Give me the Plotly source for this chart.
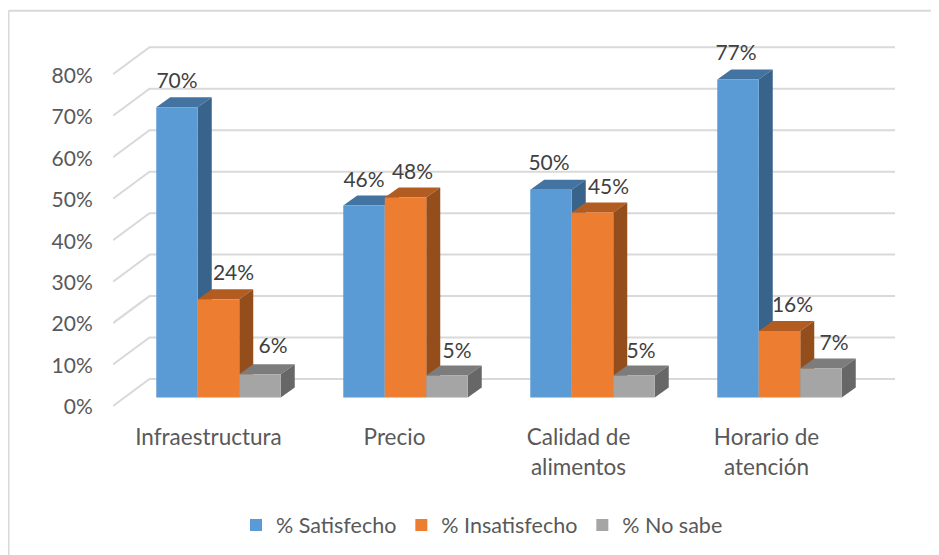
import plotly.graph_objects as go

categories = ["Infraestructura", "Precio", "Calidad de<br>alimentos", "Horario de<br>atención"]
series_names = ["% Satisfecho", "% Insatisfecho", "% No sabe"]
satisfecho = [70.0, 46.3, 50.1, 76.7]
insatisfecho = [23.7, 48.2, 44.6, 16.0]
no_sabe = [5.6, 5.3, 5.3, 7.0]
y_ticks = [0, 10, 20, 30, 40, 50, 60, 70, 80]

front_colors = ["#5B9BD5", "#ED7D31", "#A5A5A5"]
top_colors = ["#4373A0", "#B35C22", "#7C7C7C"]
side_colors = ["#38638A", "#934E1B", "#676767"]
series = [satisfecho, insatisfecho, no_sabe]

FONT = "Lato"
FS = 21
CAT_FS = 22.5
PAGE = 8  # page margin of the html body
W, H = 939 - PAGE, 555 - PAGE
L, R, T, B = 113 - PAGE, 895 - PAGE, 25 - PAGE, 411 - PAGE
STEP_PX = 187.0
PX_Y = 4.146
BAR_PX = 41.5
x_per_px = 1 / STEP_PX
y_per_px = 1 / PX_Y
x0 = -(218.5 - 113) * x_per_px
x1 = x0 + (R - L) * x_per_px
wall_y0 = -(406 - 397.4) * y_per_px
y0 = -(411 - 397.4) * y_per_px
y1 = y0 + (B - T) * y_per_px
back_dy = (397.4 - 379) * y_per_px
back_dx = (149.5 - 113) * x_per_px
w = BAR_PX * x_per_px
dx = 14 * x_per_px
dy = 10 * y_per_px
xs = list(range(len(categories)))

nudge = [[0, 0, -2, -2], [15, 7, 16, 13], [13, 10, 7, 13]]
rise = [[24, 24, 24.5, 24.5], [24, 24, 24, 24], [26.5, 22.5, 22.5, 23.5]]
cat_shift = [-10, -11, -14, -13]

def sized(label):
    return "<br>".join(f'<span style="font-size:{CAT_FS}px">{p}</span>' for p in label.split("<br>"))

fig = go.Figure()

gx, gy = [], []
for t in y_ticks:
    gx += [x0, x0 + back_dx, x1, None]
    gy += [t + wall_y0, t + back_dy, t + back_dy, None]
fig.add_trace(go.Scatter(x=gx, y=gy, mode="lines", line=dict(color="#D9D9D9", width=2),
                         hoverinfo="skip", showlegend=False, zorder=0))

for k, (name, vals) in enumerate(zip(series_names, series)):
    off = (k - 1.5) * w
    z = 2 * k + 1
    for i, v in zip(xs, vals):
        xl = i + off
        xr = xl + w
        fig.add_trace(go.Scatter(
            x=[xl, xl + dx, xr + dx, xr, xl], y=[v, v + dy, v + dy, v, v],
            mode="lines", fill="toself", fillcolor=top_colors[k], line=dict(width=0),
            hoverinfo="skip", showlegend=False, zorder=z))
        fig.add_trace(go.Scatter(
            x=[xr, xr + dx, xr + dx, xr, xr], y=[v, v + dy, dy, 0, v],
            mode="lines", fill="toself", fillcolor=side_colors[k], line=dict(width=0),
            hoverinfo="skip", showlegend=False, zorder=z))
    fig.add_trace(go.Bar(
        x=xs, y=vals, name=name, width=w, offset=off,
        marker=dict(color=front_colors[k], line=dict(width=0)), zorder=z + 1))

for k, vals in enumerate(series):
    off = (k - 1) * w
    fig.add_trace(go.Scatter(
        x=[i + off + nudge[k][i] * x_per_px for i in xs],
        y=[v + rise[k][i] * y_per_px for i, v in enumerate(vals)],
        mode="text", text=[f"{round(v)}%" for v in vals], textposition="middle center",
        textfont=dict(family=FONT, size=FS, color="#404040"),
        hoverinfo="skip", showlegend=False, cliponaxis=False, zorder=20))

fig.update_layout(
    width=W, height=H, autosize=False,
    margin=dict(l=L, r=W - R, t=T, b=H - B, pad=0),
    paper_bgcolor="white", plot_bgcolor="white",
    barmode="overlay", showlegend=True,
    legend=dict(orientation="h", x=(482 - PAGE) / W, xanchor="center", xref="container",
                y=30 / H, yanchor="middle", yref="container",
                font=dict(family=FONT, size=21.5, color="#595959"),
                traceorder="normal", itemwidth=30),
    font=dict(family=FONT, color="#595959"),
    xaxis=dict(range=[x0, x1], showgrid=False, zeroline=False, showline=False,
               tickmode="array", tickvals=[i + s * x_per_px for i, s in zip(xs, cat_shift)],
               ticktext=[sized(c) for c in categories],
               ticks="outside", ticklen=5, tickcolor="rgba(0,0,0,0)",
               tickfont=dict(family=FONT, size=23, color="#595959")),
    yaxis=dict(range=[y0, y1], showgrid=False, zeroline=False, showline=False,
               tickmode="array", tickvals=[t + wall_y0 - 1 * y_per_px for t in y_ticks],
               ticktext=[f"{t}%" for t in y_ticks],
               ticks="outside", ticklen=15, tickcolor="rgba(0,0,0,0)",
               tickfont=dict(family=FONT, size=FS, color="#595959")),
    shapes=[dict(type="line", xref="paper", yref="paper",
                 x0=(0.5 - L) / (R - L), x1=(W - L) / (R - L),
                 y0=(B - 2.7) / (B - T), y1=(B - 2.7) / (B - T),
                 line=dict(color="#D9D9D9", width=2)),
            dict(type="line", xref="paper", yref="paper",
                 x0=(0.5 - L) / (R - L), x1=(0.5 - L) / (R - L),
                 y0=(B - 2.7) / (B - T), y1=(B - H) / (B - T),
                 line=dict(color="#D9D9D9", width=2))],
)

fig.write_html("out.html")
